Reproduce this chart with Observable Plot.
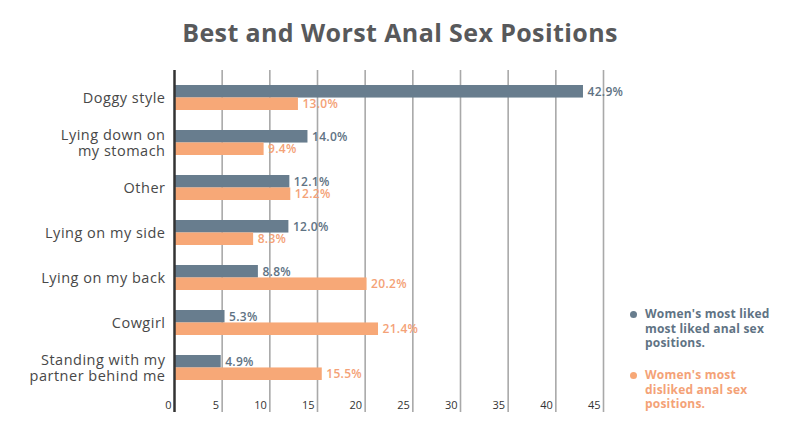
<!DOCTYPE html>
<html>
<head>
<meta charset="utf-8">
<script src="https://cdn.jsdelivr.net/npm/d3@7"></script>
<script src="https://cdn.jsdelivr.net/npm/@observablehq/plot@0.6"></script>
<style>
  html, body { margin: 0; padding: 0; background: #fff; }
  #wrap { position: relative; width: 800px; height: 440px; font-family: "Open Sans", sans-serif; }
  #title { height: 60px; line-height: 64px; text-align: center; font-size: 25px; letter-spacing: 0.4px; font-weight: 700; color: #58595b; }
  .legend { position: absolute; left: 628px; font-size: 12px; font-weight: 700; line-height: 14.5px; letter-spacing: 0.2px; }
  .legend .row { position: relative; padding-left: 17px; }
  .legend .dot { position: absolute; left: 2px; top: 4px; width: 7px; height: 7px; border-radius: 50%; }
  #chart svg .cat text { letter-spacing: 0.5px; }
  #chart svg .val text { letter-spacing: 0.3px; }
</style>
</head>
<body>
<div id="wrap">
  <div id="title"></div>
  <div id="chart"></div>
  <div class="legend" id="legend1" style="top:307px"></div>
  <div class="legend" id="legend2" style="top:368px"></div>
</div>
<script>
const title = "Best and Worst Anal Sex Positions";
const categories = [
  "Doggy style",
  "Lying down on\nmy stomach",
  "Other",
  "Lying on my side",
  "Lying on my back",
  "Cowgirl",
  "Standing with my\npartner behind me"
];
const liked = [42.9, 14.0, 12.1, 12.0, 8.8, 5.3, 4.9];
const disliked = [13.0, 9.4, 12.2, 8.3, 20.2, 21.4, 15.5];
const seriesNames = [
  "Women's most liked<br>most liked anal sex<br>positions.",
  "Women's most<br>disliked anal sex<br>positions."
];
const seriesColors = ["#687d8e", "#f7a877"];
const textColors = ["#5f7384", "#f4a277"];
const xTicks = [0, 5, 10, 15, 20, 25, 30, 35, 40, 45];

document.getElementById("title").textContent = title;

const likedData = categories.map((c, i) => ({category: c, value: liked[i]}));
const dislikedData = categories.map((c, i) => ({category: c, value: disliked[i]}));
const half = 12.45;

const chart = Plot.plot({
  width: 800,
  height: 380,
  marginTop: 10,
  marginBottom: 28,
  marginLeft: 174,
  marginRight: 197,
  style: {fontFamily: "Open Sans, sans-serif", background: "#fff"},
  x: {domain: [0, 45], ticks: xTicks},
  y: {domain: categories, paddingInner: 0.45, paddingOuter: 0.5, align: 0.32},
  marks: [
    Plot.ruleX(xTicks.slice(1), {stroke: "#a9a9a9", strokeWidth: 1.6}),
    Plot.barX(likedData, {x: "value", y: "category", fill: seriesColors[0], insetBottom: half}),
    Plot.barX(dislikedData, {x: "value", y: "category", fill: seriesColors[1], insetTop: half}),
    Plot.text(likedData, {x: "value", y: "category", text: d => d.value.toFixed(1) + "%", dx: 4, dy: -6.2, textAnchor: "start", fill: textColors[0], fontSize: 12, fontWeight: 600, className: "val"}),
    Plot.text(dislikedData, {x: "value", y: "category", text: d => d.value.toFixed(1) + "%", dx: 4, dy: 6.2, textAnchor: "start", fill: textColors[1], fontSize: 12, fontWeight: 600, className: "val"}),
    Plot.ruleX([0], {stroke: "#333", strokeWidth: 2.5}),
    Plot.axisY({tickSize: 0, tickPadding: 9, fontSize: 14.5, fill: "#484848", label: null, lineHeight: 1.1, className: "cat"}),
    Plot.axisX({anchor: "bottom", ticks: xTicks, tickSize: 0, tickPadding: 0, textAnchor: "end", dx: -3, dy: -11, fontSize: 11, fill: "#333", label: null})
  ]
});
document.getElementById("chart").appendChild(chart);

["legend1", "legend2"].forEach((id, i) => {
  const el = document.getElementById(id);
  el.innerHTML = `<div class="row" style="color:${textColors[i]}"><span class="dot" style="background:${seriesColors[i]}"></span>${seriesNames[i]}</div>`;
});
</script>
</body>
</html>
